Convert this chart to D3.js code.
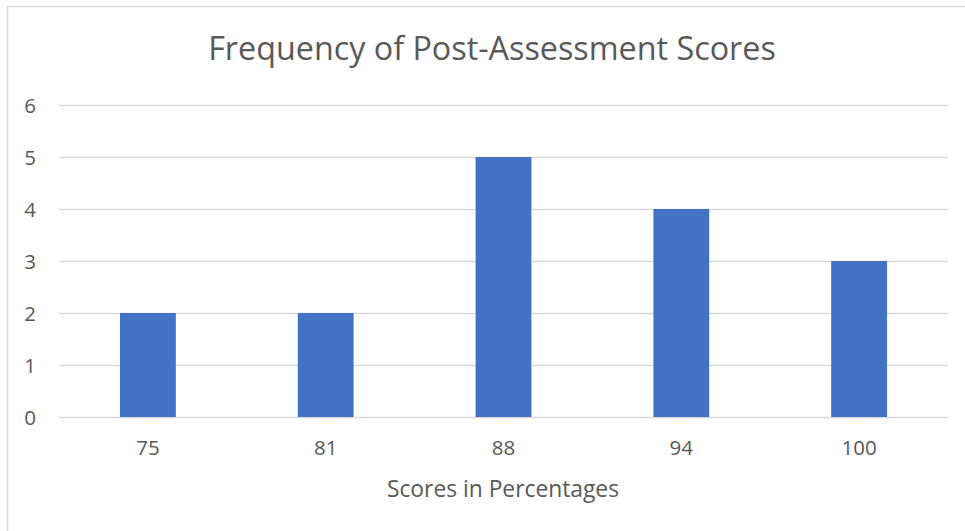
<!DOCTYPE html>
<html>
<head>
<meta charset="utf-8">
<script src="https://cdn.jsdelivr.net/npm/d3@7"></script>
<style>
  body { margin: 0; background: #ffffff; }
  svg { display: block; font-family: "Open Sans", "Noto Sans", sans-serif; }
</style>
</head>
<body>
<div id="chart"></div>
<script>
// data
const scores = ["75", "81", "88", "94", "100"];
const counts = [2, 2, 5, 4, 3];
const yTicks = [0, 1, 2, 3, 4, 5, 6];

const chartTitle = "Frequency of Post-Assessment Scores";
const xTitle = "Scores in Percentages";

main();

function main() {
    let width = 965, height = 531;
    let plot = {left: 59, right: 948, top: 105, bottom: 417};

    let svg = d3.select("#chart").append("svg")
        .attr("width", width)
        .attr("height", height);

    svg.append("rect")
        .attr("width", width).attr("height", height)
        .attr("fill", "#ffffff");

    // chart frame (runs off right and bottom)
    svg.append("rect")
        .attr("x", 7.5).attr("y", 6.5)
        .attr("width", 1000).attr("height", 600)
        .attr("fill", "none")
        .attr("stroke", "#d9d9d9")
        .attr("stroke-width", 1.5);

    let x = d3.scaleBand()
        .domain(scores)
        .range([plot.left, plot.right])
        .paddingInner(0.686)
        .paddingOuter(0.343);

    let y = d3.scaleLinear()
        .domain([0, 6])
        .range([plot.bottom, plot.top]);

    // gridlines
    svg.append("g").selectAll("line")
        .data(yTicks)
        .enter()
        .append("line")
        .attr("x1", plot.left)
        .attr("x2", plot.right)
        .attr("y1", d => Math.round(y(d)) + 0.5)
        .attr("y2", d => Math.round(y(d)) + 0.5)
        .attr("stroke", "#d9d9d9")
        .attr("stroke-width", 1.5);

    // bars
    svg.append("g").selectAll("rect")
        .data(scores)
        .enter()
        .append("rect")
        .attr("x", d => x(d))
        .attr("y", (d, i) => y(counts[i]))
        .attr("width", x.bandwidth())
        .attr("height", (d, i) => y(0) - y(counts[i]))
        .attr("fill", "#4472c4");

    // y tick labels
    svg.append("g").selectAll("text")
        .data(yTicks)
        .enter()
        .append("text")
        .attr("x", 36)
        .attr("y", d => y(d) + 7.5)
        .attr("text-anchor", "end")
        .attr("fill", "#595959")
        .attr("font-size", 20.5)
        .text(d => d);

    // x tick labels
    svg.append("g").selectAll("text")
        .data(scores)
        .enter()
        .append("text")
        .attr("x", d => x(d) + x.bandwidth() / 2)
        .attr("y", 455)
        .attr("text-anchor", "middle")
        .attr("fill", "#595959")
        .attr("font-size", 20.5)
        .text(d => d);

    // axis title
    svg.append("text")
        .attr("x", 503)
        .attr("y", 497)
        .attr("text-anchor", "middle")
        .attr("fill", "#595959")
        .attr("font-size", 22.8)
        .text(xTitle);

    // chart title
    svg.append("text")
        .attr("x", 492)
        .attr("y", 60)
        .attr("text-anchor", "middle")
        .attr("fill", "#595959")
        .attr("font-size", 32.3)
        .text(chartTitle);
}
</script>
</body>
</html>
